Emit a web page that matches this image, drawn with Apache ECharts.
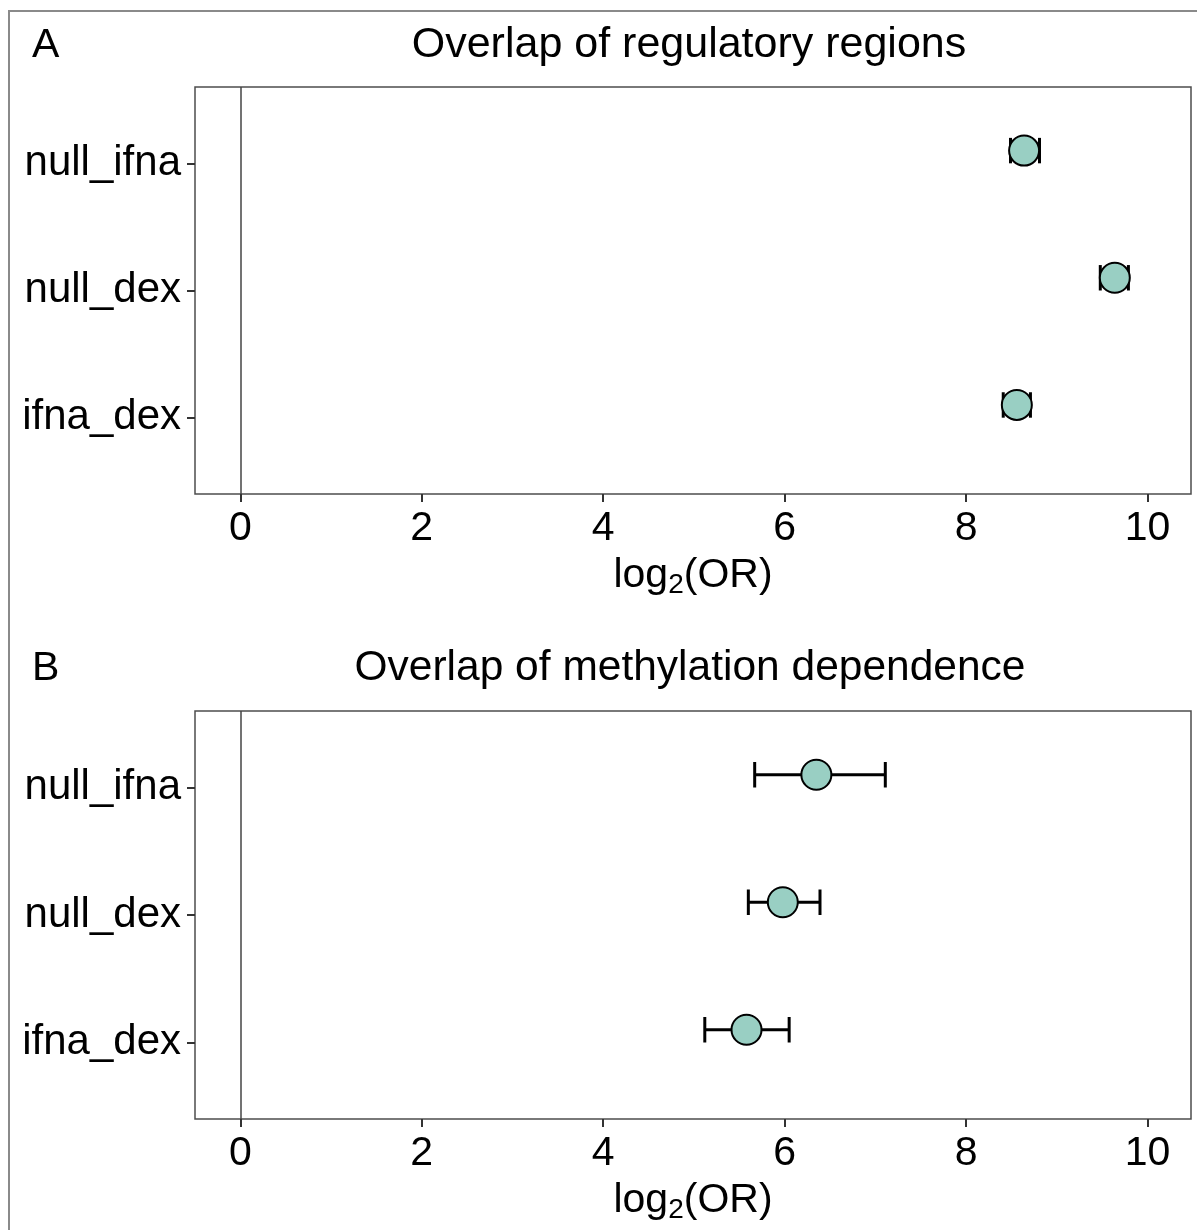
<!DOCTYPE html>
<html>
<head>
<meta charset="utf-8">
<script src="https://cdn.jsdelivr.net/npm/echarts@6/dist/echarts.min.js"></script>
<style>
html,body{margin:0;padding:0;background:#fff;}
#chart{width:1197px;height:1230px;}
</style>
</head>
<body>
<div id="chart"></div>
<script>
// ---- data ----
const categories = ['null_ifna', 'null_dex', 'ifna_dex'];
const xTicks = [0, 2, 4, 6, 8, 10];
const titleA = 'Overlap of regulatory regions';
const titleB = 'Overlap of methylation dependence';
// panel A: log2(OR) estimate and CI
const regEst = [8.64, 9.64, 8.56];
const regLow = [8.49, 9.48, 8.41];
const regHigh = [8.81, 9.79, 8.71];
// panel B
const methEst = [6.35, 5.98, 5.58];
const methLow = [5.67, 5.60, 5.12];
const methHigh = [7.11, 6.39, 6.05];
const dodge = 0.1; // vertical nudge of points relative to category

const FONT = '"Liberation Sans", Arial, Helvetica, sans-serif';
const FILL = '#99cfc3';

function makePoints(est) {
  return est.map((v, i) => [v, i + 1 - dodge]);
}
function makeBars(lo, hi) {
  return lo.map((v, i) => [v, hi[i], i + 1 - dodge]);
}

function xAxisFor(gi) {
  return {
    gridIndex: gi, type: 'value', min: -0.5, max: 10.48, position: 'bottom',
    splitLine: {show: false},
    axisLine: {show: false, onZero: false},
    axisTick: {show: true, length: 8, customValues: xTicks, lineStyle: {color: '#333', width: 2}},
    axisLabel: {customValues: xTicks, fontSize: 41, color: '#000', fontFamily: FONT, margin: 14},
    name: '{a|log}{s|2}{a|(OR)}',
    nameLocation: 'middle', nameGap: 59,
    nameTextStyle: {
      rich: {
        a: {fontSize: 41, color: '#000', fontFamily: FONT},
        s: {fontSize: 28, color: '#000', fontFamily: FONT, verticalAlign: 'bottom', padding: [18, 0, 0, 0]}
      }
    }
  };
}
function yAxisFor(gi) {
  return {
    gridIndex: gi, type: 'value', min: 0.4, max: 3.6, inverse: true, position: 'left',
    splitLine: {show: false},
    axisLine: {show: false, onZero: false},
    axisTick: {show: true, length: 8, customValues: [1, 2, 3], lineStyle: {color: '#333', width: 2}},
    axisLabel: {
      customValues: [1, 2, 3], fontSize: 42, color: '#000', fontFamily: FONT, margin: 14,
      formatter: v => categories[Math.round(v) - 1] || ''
    }
  };
}
function errSeries(gi, lo, hi) {
  return {
    type: 'custom', xAxisIndex: gi, yAxisIndex: gi, z: 2,
    data: makeBars(lo, hi),
    renderItem: function (params, api) {
      const p1 = api.coord([api.value(0), api.value(2)]);
      const p2 = api.coord([api.value(1), api.value(2)]);
      const h = api.size([0, 0.2])[1] / 2;
      const st = {stroke: '#000', lineWidth: 3};
      return {
        type: 'group',
        children: [
          {type: 'line', shape: {x1: p1[0], y1: p1[1], x2: p2[0], y2: p2[1]}, style: st},
          {type: 'line', shape: {x1: p1[0], y1: p1[1] - h, x2: p1[0], y2: p1[1] + h}, style: st},
          {type: 'line', shape: {x1: p2[0], y1: p2[1] - h, x2: p2[0], y2: p2[1] + h}, style: st}
        ]
      };
    },
    markLine: {
      silent: true, symbol: ['none', 'none'], label: {show: false},
      lineStyle: {color: '#444', width: 1.5, type: 'solid'},
      data: [{xAxis: 0}]
    }
  };
}
function ptSeries(gi, est) {
  return {
    type: 'scatter', xAxisIndex: gi, yAxisIndex: gi, z: 3,
    data: makePoints(est), symbol: 'circle', symbolSize: 30,
    itemStyle: {color: FILL, borderColor: '#000', borderWidth: 2, opacity: 1},
    emphasis: {disabled: true}
  };
}

const chart = echarts.init(document.getElementById('chart'), null, {renderer: 'canvas'});
chart.setOption({
  backgroundColor: '#fff',
  animation: false,
  title: [
    {text: titleA, left: 684, textAlign: 'center', top: 19, textStyle: {fontSize: 43, fontWeight: 'normal', color: '#000', fontFamily: FONT}},
    {text: 'A', left: 27, top: 20, textStyle: {fontSize: 41, fontWeight: 'normal', color: '#000', fontFamily: FONT}},
    {text: titleB, left: 685, textAlign: 'center', top: 642, textStyle: {fontSize: 42.5, fontWeight: 'normal', color: '#000', fontFamily: FONT}},
    {text: 'B', left: 27, top: 643, textStyle: {fontSize: 41, fontWeight: 'normal', color: '#000', fontFamily: FONT}}
  ],
  grid: [
    {left: 195, top: 87, width: 996, height: 407, show: true, borderColor: '#4d4d4d', borderWidth: 1.5, backgroundColor: 'transparent', containLabel: false},
    {left: 195, top: 711, width: 996, height: 408, show: true, borderColor: '#4d4d4d', borderWidth: 1.5, backgroundColor: 'transparent', containLabel: false}
  ],
  xAxis: [xAxisFor(0), xAxisFor(1)],
  yAxis: [yAxisFor(0), yAxisFor(1)],
  series: [
    errSeries(0, regLow, regHigh),
    ptSeries(0, regEst),
    errSeries(1, methLow, methHigh),
    ptSeries(1, methEst)
  ],
  graphic: [
    {type: 'rect', shape: {x: 9, y: 11, width: 1250, height: 1300}, style: {fill: 'none', stroke: '#8a8a8a', lineWidth: 2}, silent: true, z: 100}
  ]
});
</script>
</body>
</html>
